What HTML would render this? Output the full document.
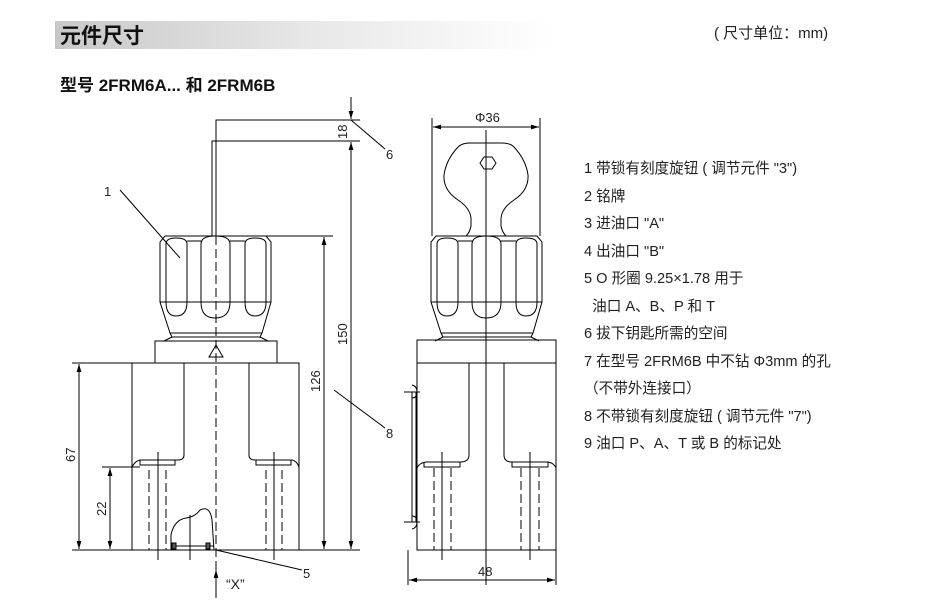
<!DOCTYPE html>
<html><head><meta charset="utf-8"><style>
body{margin:0;width:930px;height:602px;background:#fff;overflow:hidden;font-family:"Liberation Sans","Noto Sans CJK SC",sans-serif}
.bar{position:absolute;left:55px;top:21px;width:800px;height:28px;background:linear-gradient(90deg,#c8c8c8 0%,#e6e6e6 30%,#fff 62%)}
.t1{position:absolute;left:60px;top:20px;font-size:21px;font-weight:bold;color:#111;font-family:"Noto Sans CJK SC",sans-serif}
.unit{position:absolute;left:714px;top:22px;font-size:15px;color:#222;font-family:"Liberation Sans","Noto Sans CJK SC",sans-serif}
.t2{position:absolute;left:60px;top:71px;font-size:17px;font-weight:bold;color:#111;font-family:"Liberation Sans","Noto Sans CJK SC",sans-serif}
.leg{position:absolute;left:584px;top:156px;font-size:14.6px;line-height:27.5px;color:#222;font-family:"Liberation Sans","Noto Sans CJK SC",sans-serif}
svg{position:absolute;left:0;top:0}
</style></head><body>
<div class="bar"></div>
<div class="t1">元件尺寸</div>
<div class="unit">( 尺寸单位：mm)</div>
<div class="t2">型号 2FRM6A... 和 2FRM6B</div>
<div class="leg">1 带锁有刻度旋钮 ( 调节元件 "3")<br>2 铭牌<br>3 进油口 "A"<br>4 出油口 "B"<br>5 O 形圈 9.25×1.78 用于<br>&nbsp;&nbsp;油口 A、B、P 和 T<br>6 拔下钥匙所需的空间<br>7 在型号 2FRM6B 中不钻 Φ3mm 的孔<br>（不带外连接口）<br>8 不带锁有刻度旋钮 ( 调节元件 "7")<br>9 油口 P、A、T 或 B 的标记处</div>
<svg width="930" height="602" viewBox="0 0 930 602" fill="none" stroke="#000" stroke-width="1">
<defs>
<g id="knob">
<path d="M165 236 L266 236 L271 242 L271 302 L262 333 L170 333 L160 302 L160 242 Z"/>
<path d="M160 302 L271 302"/>
<path d="M187 241 L201 241 M230 241 L245 241"/>
<path d="M166 244 Q166 238 176 238 Q187 238 187 244 L187 302 Q187 316 176 316 Q166 316 166 302 Z"/>
<path d="M201 244 Q201 236 215 236 Q230 236 230 244 L230 302 Q230 318 215 318 Q201 318 201 302 Z"/>
<path d="M245 244 Q245 238 255 238 Q266 238 266 244 L266 302 Q266 316 255 316 Q245 316 245 302 Z"/>
<path d="M170 333 L172 337 L260 337 L262 333 M172 337 L164 341 M260 337 L268 341"/>
</g>
<marker id="ar" viewBox="0 0 10 10" refX="10" refY="5" markerWidth="8" markerHeight="8" orient="auto-start-reverse"><path d="M0 2 L10 5 L0 8 Z" fill="#000" stroke="none"/></marker>
</defs>
<use href="#knob"/>
<path d="M212 236 L212 141 L360 141 M216 236 L216 120 L360 120"/>
<path d="M214 236 L333 236"/>
<rect x="155" y="341" width="122" height="22"/>
<path d="M209 357 L216 345 L223 357 Z"/>
<path d="M132 363 L299 363 L299 550 L132 550 Z"/>
<path d="M184 363 L184 455 Q184 460 178 460 L140 460 Q135 461 132 467"/>
<path d="M249 363 L249 455 Q249 460 255 460 L292 460 Q297 461 299 467"/>
<path d="M140 460 L140 465 L175 465 L175 460 M256 460 L256 465 L291 465 L291 460"/>
<path d="M72 550 L360 550 M72 363 L132 363 M102 467 L140 467"/>
<path d="M79 364 L79 549" marker-start="url(#ar)" marker-end="url(#ar)"/>
<path d="M110 468 L110 549" marker-start="url(#ar)" marker-end="url(#ar)"/>
<path d="M324 237 L324 549" marker-start="url(#ar)" marker-end="url(#ar)"/>
<path d="M351 142 L351 549" marker-start="url(#ar)" marker-end="url(#ar)"/>
<path d="M351 97 L351 119" marker-end="url(#ar)"/>
<g stroke-dasharray="9,4">
<path d="M216 236 L216 600 M149 470 L149 550 M166 470 L166 550 M266 470 L266 550 M282 470 L282 550"/>
</g>
<path d="M158 452 L158 560 M274 452 L274 560 M190 515 L190 560"/>
<path d="M171 550 L171 535 Q174 520 186 518 Q195 517 200 510 Q210 505 212 520 L214 550" />
<path d="M171 546 L214 546"/>
<rect x="172" y="543" width="4" height="6" fill="#555"/><rect x="206" y="543" width="4" height="6" fill="#555"/>
<path d="M216 598 L216 570" marker-end="url(#ar)"/>
<path d="M216 550 L302 570 M120 190 L180 258 M351 120 L385 149 M334 390 L385 428"/>
<g transform="translate(271,0)"><use href="#knob"/></g>
<rect x="417" y="340" width="139" height="23"/>
<path d="M417 363 L556 363 L556 550 L417 550 Z"/>
<path d="M469 363 L469 455 Q469 462 460 462 L426 462 Q419 463 417 468"/>
<path d="M504 363 L504 455 Q504 462 512 462 L548 462 Q554 463 556 468"/>
<path d="M424 462 L424 467 L460 467 L460 462 M512 462 L512 467 L548 467 L548 462"/>
<path d="M466 236 Q470 232 471 226 L471 218 Q470 208 458 200 Q443 190 444 175 Q446 160 458 147 Q462 143 470 143 L502 143 Q510 143 514 147 Q526 160 528 175 Q529 190 514 200 Q502 208 501 218 L501 226 Q502 232 506 236"/>
<path d="M480 163 L484 157 L492 157 L496 163 L492 169 L484 169 Z"/>
<path d="M486 130 L486 585"/>
<path d="M432 236 L432 118 M540 236 L540 118 M408 550 L408 585 M556 550 L556 585"/>
<path d="M433 127 L539 127" marker-start="url(#ar)" marker-end="url(#ar)"/>
<path d="M409 580 L555 580" marker-start="url(#ar)" marker-end="url(#ar)"/>
<g stroke-dasharray="9,4"><path d="M486 365 L486 550 M434 468 L434 550 M451 468 L451 550 M521 468 L521 550 M539 468 L539 550"/></g>
<path d="M442 452 L442 560 M530 452 L530 560"/>
<path d="M412 392 L412 522 L416 522 L416 392 Z"/>
<path d="M412 385 Q417 386 417 392 Q417 398 412 398 M412 516 Q417 516 417 522 Q417 528 412 529"/>
<path d="M404 392 L420 392 M404 522 L420 522"/>
<g fill="#222" stroke="none" font-family="Liberation Sans, sans-serif" font-size="13">
<text x="104" y="196">1</text><text x="386" y="159">6</text><text x="386" y="438">8</text><text x="303" y="578">5</text>
<text x="226" y="589" font-size="14">“X”</text>
<text x="475" y="122">Φ36</text><text x="478" y="576">48</text>
<text transform="translate(347,139) rotate(-90)">18</text>
<text transform="translate(347,345) rotate(-90)">150</text>
<text transform="translate(320,392) rotate(-90)">126</text>
<text transform="translate(75,462) rotate(-90)">67</text>
<text transform="translate(106,516) rotate(-90)">22</text>
</g>
</svg>
</body></html>
